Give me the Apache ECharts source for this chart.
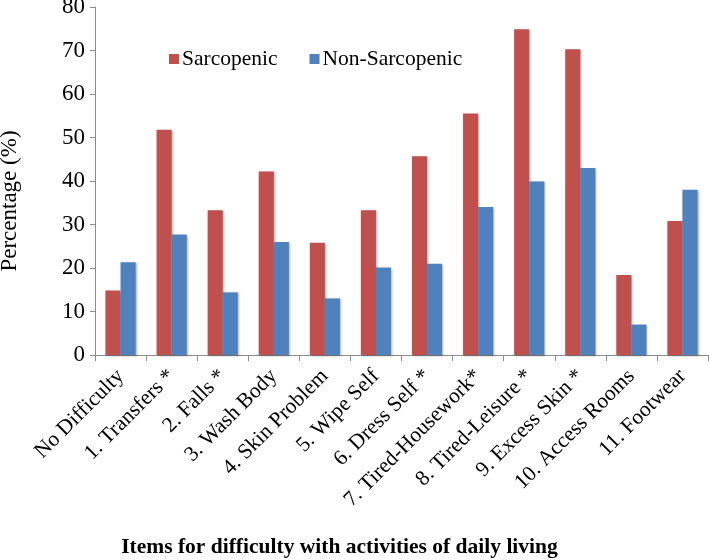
<!DOCTYPE html>
<html>
<head>
<meta charset="utf-8">
<script src="https://cdn.jsdelivr.net/npm/echarts@6/dist/echarts.min.js"></script>
<style>
  html, body { margin: 0; padding: 0; background: #fff; }
  #chart { width: 709px; height: 560px; }
</style>
</head>
<body>
<div id="chart"></div>
<script>
const categories = ['No Difficulty', '1. Transfers *', '2. Falls *', '3. Wash Body', '4. Skin Problem',
  '5. Wipe Self', '6. Dress Self *', '7. Tired-Housework*', '8. Tired-Leisure *', '9. Excess Skin *',
  '10. Access Rooms', '11. Footwear'];
const sarcopenic = [14.8, 51.8, 33.3, 42.2, 25.8, 33.3, 45.7, 55.5, 74.9, 70.3, 18.4, 30.8];
const nonSarcopenic = [21.3, 27.7, 14.4, 26.0, 13.0, 20.1, 21.0, 34.0, 39.9, 43.0, 7.0, 38.0];

const chart = echarts.init(document.getElementById('chart'));
const serif = '"Liberation Serif", "Times New Roman", serif';
const axisGray = '#8c8c8c';
// soft drop shadow like the original office chart
const barShadow = { shadowColor: 'rgba(0,0,0,0.3)', shadowBlur: 2, shadowOffsetX: 1, shadowOffsetY: 1 };

chart.setOption({
  animation: false,
  textStyle: { fontFamily: serif, color: '#000' },
  // fixed plot box, labels may sit outside it
  grid: { left: 95, right: 1, top: 7, bottom: 205, containLabel: false, outerBoundsMode: 'none' },
  legend: {
    left: 164,
    top: 43,
    itemWidth: 10,
    itemHeight: 10,
    itemGap: 32,
    icon: 'rect',
    textStyle: { fontFamily: serif, fontSize: 21.5, color: '#000', padding: [0, 0, 0, -2] },
    data: ['Sarcopenic', 'Non-Sarcopenic']
  },
  xAxis: {
    type: 'category',
    data: categories,
    name: 'Items for difficulty with activities of daily living',
    nameLocation: 'middle',
    nameGap: 181,
    nameTextStyle: { fontFamily: serif, fontSize: 21.5, fontWeight: 'bold', color: '#000', padding: [0, 124, 0, 0] },
    axisLine: { lineStyle: { color: axisGray } },
    axisTick: { show: true, length: 6, lineStyle: { color: axisGray } },
    axisLabel: {
      rotate: 45,
      interval: 0,
      margin: 18,
      fontFamily: serif,
      fontSize: 21.5,
      color: '#000'
    }
  },
  yAxis: {
    type: 'value',
    min: 0,
    max: 80,
    interval: 10,
    name: 'Percentage (%)',
    nameLocation: 'middle',
    nameGap: 74,
    nameTextStyle: { fontFamily: serif, fontSize: 23, color: '#000', padding: [0, 0, 0, -40] },
    axisLine: { show: true, lineStyle: { color: axisGray } },
    axisTick: { show: true, length: 5, lineStyle: { color: axisGray } },
    splitLine: { show: false },
    axisLabel: { fontFamily: serif, fontSize: 23, color: '#000', margin: 10 }
  },
  series: [
    {
      name: 'Sarcopenic',
      type: 'bar',
      data: sarcopenic,
      itemStyle: Object.assign({ color: '#c0504d' }, barShadow),
      barGap: '0%',
      barCategoryGap: '41%'
    },
    {
      name: 'Non-Sarcopenic',
      type: 'bar',
      data: nonSarcopenic,
      itemStyle: Object.assign({ color: '#4f81bd' }, barShadow)
    }
  ]
});
</script>
</body>
</html>
